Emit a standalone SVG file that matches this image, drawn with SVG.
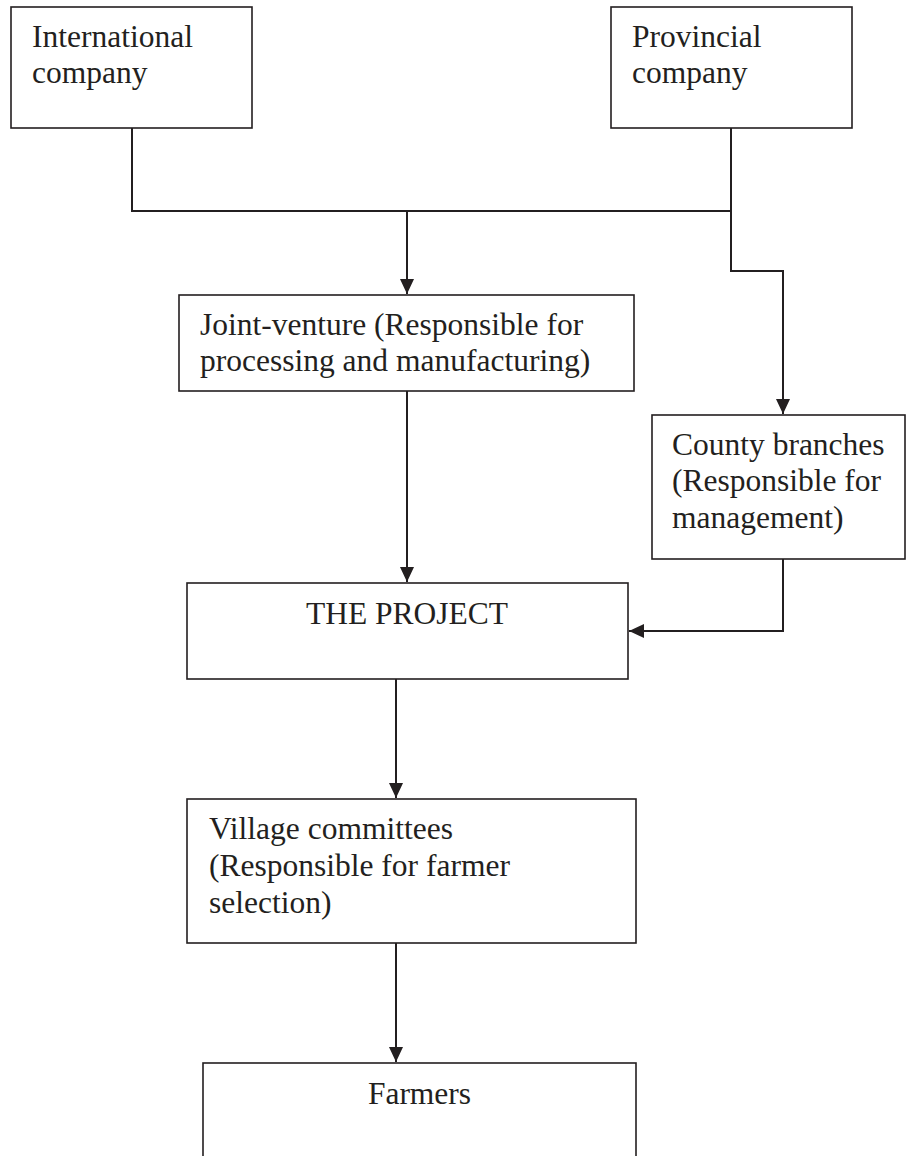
<svg xmlns="http://www.w3.org/2000/svg" width="906" height="1156" viewBox="0 0 906 1156">
<style>
.box{fill:#fff;stroke:#231f20;stroke-width:1.6}
.t{font-family:"Liberation Serif","Times New Roman",serif;font-size:31.5px;fill:#231f20}
.c{fill:none;stroke:#231f20;stroke-width:2}
</style>
<defs>
<marker id="ah" markerUnits="userSpaceOnUse" markerWidth="16" markerHeight="14" refX="15" refY="7" orient="auto">
<path d="M0,0 L15,7 L0,14 Z" fill="#231f20"/>
</marker>
</defs>
<rect width="906" height="1156" fill="#fff"/>
<g id="connectors">
<path class="c" d="M132,128 V211 H731"/>
<path class="c" d="M731,128 V271 H783 V414" marker-end="url(#ah)"/>
<path class="c" d="M407,211 V294" marker-end="url(#ah)"/>
<path class="c" d="M407,391 V582" marker-end="url(#ah)"/>
<path class="c" d="M783,559 V631 H629" marker-end="url(#ah)"/>
<path class="c" d="M396,679 V798" marker-end="url(#ah)"/>
<path class="c" d="M396,943 V1062" marker-end="url(#ah)"/>
</g>
<g id="international">
<rect class="box" x="11" y="7" width="241" height="121"/>
<text class="t" x="32" y="47">International</text>
<text class="t" x="32" y="83">company</text>
</g>
<g id="provincial">
<rect class="box" x="611" y="7" width="241" height="121"/>
<text class="t" x="632" y="47">Provincial</text>
<text class="t" x="632" y="83">company</text>
</g>
<g id="joint-venture">
<rect class="box" x="179" y="295" width="455" height="96"/>
<text class="t" x="200" y="335">Joint-venture (Responsible for</text>
<text class="t" x="200" y="371">processing and manufacturing)</text>
</g>
<g id="county">
<rect class="box" x="652" y="415" width="253" height="144"/>
<text class="t" x="672" y="455">County branches</text>
<text class="t" x="672" y="491">(Responsible for</text>
<text class="t" x="672" y="528">management)</text>
</g>
<g id="project">
<rect class="box" x="187" y="583" width="441" height="96"/>
<text class="t" x="407" y="624" text-anchor="middle">THE PROJECT</text>
</g>
<g id="village">
<rect class="box" x="187" y="799" width="449" height="144"/>
<text class="t" x="209" y="839">Village committees</text>
<text class="t" x="209" y="876">(Responsible for farmer</text>
<text class="t" x="209" y="913">selection)</text>
</g>
<g id="farmers">
<rect class="box" x="203" y="1063" width="433" height="120"/>
<text class="t" x="419.5" y="1104" text-anchor="middle">Farmers</text>
</g>
</svg>
